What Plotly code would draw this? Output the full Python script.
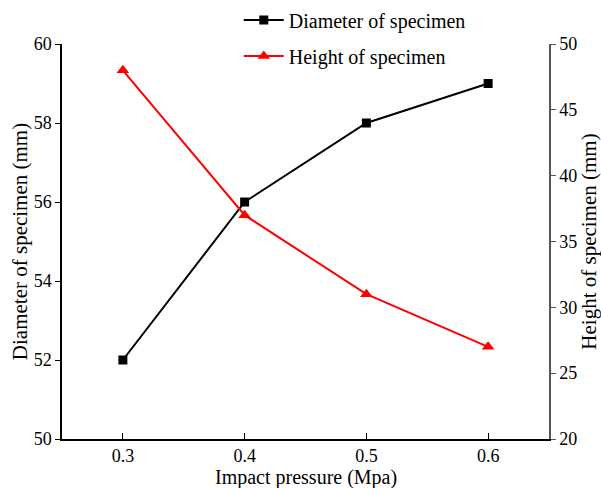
import plotly.graph_objects as go

# Impact pressure levels and measured specimen dimensions
pressure = [0.3, 0.4, 0.5, 0.6]
diameter_mm = [52, 56, 58, 59]
height_mm = [48, 37, 31, 27]

x_ticks = [0.3, 0.4, 0.5, 0.6]
left_ticks = [50, 52, 54, 56, 58, 60]
right_ticks = [20, 25, 30, 35, 40, 45, 50]

FONT = "Liberation Serif"
TITLE_SIZE = 21
TICK_SIZE = 18

fig = go.Figure()
fig.add_trace(go.Scatter(
    x=pressure, y=diameter_mm, name="Diameter of specimen",
    mode="lines+markers", legendgroup="d",
    line=dict(color="black", width=2),
    marker=dict(symbol="square", size=9, color="black"),
    yaxis="y",
))
fig.add_trace(go.Scatter(
    x=pressure, y=height_mm, name="Height of specimen",
    mode="lines+markers", legendgroup="h",
    line=dict(color="#ff0000", width=2),
    marker=dict(symbol="triangle-up", size=11, color="#ff0000"),
    yaxis="y2",
))

fig.update_layout(
    width=601, height=488,
    margin=dict(l=62, r=52, t=44, b=49, autoexpand=False),
    paper_bgcolor="white", plot_bgcolor="white",
    font=dict(family=FONT, size=TICK_SIZE, color="black"),
    showlegend=True,
    legend=dict(
        x=0.363, y=1.11, xanchor="left", yanchor="top",
        bgcolor="rgba(0,0,0,0)", tracegroupgap=7,
        font=dict(family=FONT, size=20),
        itemwidth=40,
    ),
    xaxis=dict(
        range=[0.25, 0.65], tickvals=x_ticks,
        ticktext=[f"{v:.1f}" for v in x_ticks],
        ticks="inside", ticklen=6, tickwidth=1, tickcolor="black",
        showline=True, linecolor="black", linewidth=1.5,
        showgrid=False, zeroline=False, automargin=False,
        tickfont=dict(family=FONT, size=TICK_SIZE),
    ),
    yaxis=dict(
        range=[50, 60], tickvals=left_ticks,
        ticks="outside", ticklen=5, tickwidth=1, tickcolor="black",
        showline=True, linecolor="black", linewidth=1.5,
        showgrid=False, zeroline=False, automargin=False,
        title=dict(text="Diameter of specimen (mm)", standoff=0,
                   font=dict(family=FONT, size=TITLE_SIZE)),
        tickfont=dict(family=FONT, size=TICK_SIZE),
    ),
    yaxis2=dict(
        range=[20, 50], tickvals=right_ticks,
        overlaying="y", side="right",
        ticks="outside", ticklen=5, tickwidth=1, tickcolor="#555555",
        showline=True, linecolor="#555555", linewidth=1.5,
        showgrid=False, zeroline=False, automargin=False,
        title=dict(text="Height of specimen (mm)", standoff=8,
                   font=dict(family=FONT, size=TITLE_SIZE)),
        tickfont=dict(family=FONT, size=TICK_SIZE),
    ),
)

# x-axis title placed just below the tick labels
fig.add_annotation(
    text="Impact pressure (Mpa)", xref="paper", yref="paper",
    x=0.5, y=0, xanchor="center", yanchor="middle", yshift=-38,
    showarrow=False, borderpad=0,
    font=dict(family=FONT, size=20, color="black"),
)

fig.write_html("out.html")
